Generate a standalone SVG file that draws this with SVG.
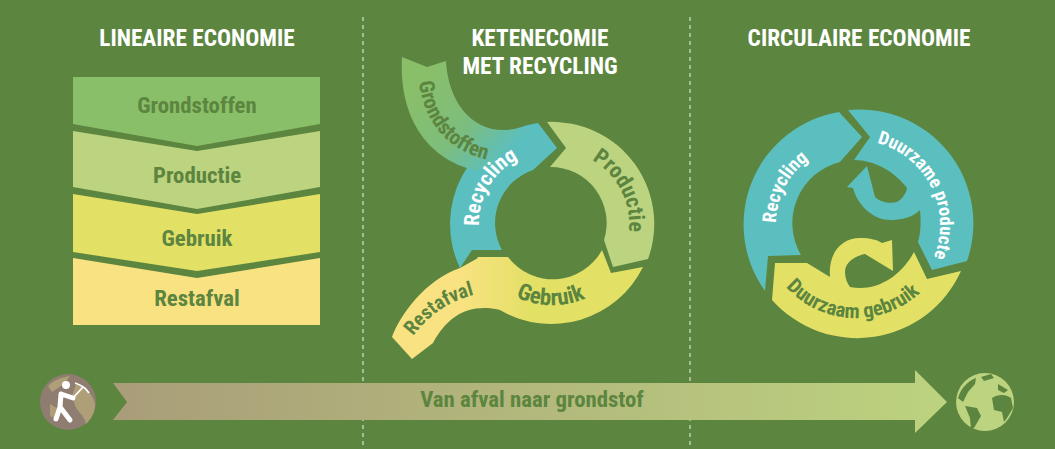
<svg xmlns="http://www.w3.org/2000/svg" width="1055" height="449" viewBox="0 0 1055 449">
<style>
text{font-family:"Roboto","Liberation Sans",sans-serif;font-weight:700;font-stretch:75%}
.h{fill:#fff;font-size:23.3px;text-anchor:middle}
.d{fill:#5c853f;font-size:22.8px}
.m{text-anchor:middle}
.w{fill:#fff}
.sep{stroke:#fff;stroke-width:1;stroke-dasharray:4 4;opacity:.9;fill:none}
.teal{fill:#5bbfbf}
</style>
<defs>
<linearGradient id="gG" gradientUnits="userSpaceOnUse" x1="410" y1="90" x2="500" y2="165"><stop offset="0" stop-color="#8abf69"/><stop offset=".55" stop-color="#7dbd7d"/><stop offset="1" stop-color="#5bbfbf"/></linearGradient>
<linearGradient id="gY" gradientUnits="userSpaceOnUse" x1="460" y1="0" x2="530" y2="0"><stop offset="0" stop-color="#f9e282"/><stop offset="1" stop-color="#e3e066"/></linearGradient>
<linearGradient id="gA" gradientUnits="userSpaceOnUse" x1="113" y1="0" x2="947" y2="0"><stop offset="0" stop-color="#a99d79"/><stop offset="1" stop-color="#bcd37f"/></linearGradient>
<path id="p1" d="M479 226A72 72 0 0 1 551 151"/>
<path id="p2" d="M592 160A74 74 0 0 1 620 260"/>
<path id="p3" d="M516 297A83 83 0 0 0 620 270"/>
<path id="p4" d="M413 336C430 314 448 302 473 295L500 290"/>
<path id="p5" d="M419 82C424 120 445 150 488 160L510 163"/>
<path id="p6" d="M776 223A80 80 0 0 1 856 144"/>
<path id="p7" d="M877 143A85 85 0 0 1 920 280"/>
<path id="p8" d="M786 287A94 94 0 0 0 940 266"/>
</defs>
<rect width="1055" height="449" fill="#5c853f"/>
<g id="separators">
<path class="sep" d="M363 17V449"/>
<path class="sep" d="M690 17V449"/>
</g>
<g id="connectors">
<g id="flow-arrow">
<path d="M113 383H915V370L947 402L915 433V420H113L127 402Z" fill="url(#gA)"/>
<text class="d m" x="532" y="407">Van afval naar grondstof</text>
</g>
</g>
<g id="linear">
<text class="h" x="197" y="46">LINEAIRE ECONOMIE</text>
<g id="lin-grondstoffen"><path d="M73 77H320V124L197 146L73 124Z" fill="#8abf69"/><text class="d m" x="197" y="113">Grondstoffen</text></g>
<g id="lin-productie"><path d="M73 131L197 151L320 131V187L197 209L73 187Z" fill="#bcd37f"/><text class="d m" x="197" y="183">Productie</text></g>
<g id="lin-gebruik"><path d="M73 194L197 214L320 194V252L197 271L73 252Z" fill="#e3e066"/><text class="d m" x="197" y="246">Gebruik</text></g>
<g id="lin-restafval"><path d="M73 258L197 278L320 258V325H73Z" fill="#f9e282"/><text class="d m" x="197" y="306">Restafval</text></g>
</g>
<g id="chain">
<text class="h" x="540" y="46">KETENECOMIE</text>
<text class="h" x="540" y="74">MET RECYCLING</text>
<g id="chain-recycling"><path class="teal" d="M460 268A102 102 0 0 1 538 123L557 148L533 170A56 56 0 0 0 502 250H472Z"/></g>
<g id="chain-grondstoffen"><path d="M402 57L427 67L446 61C448 100 470 130 503 130C515 130 525 127 538 123L500 160L480 171C440 165 398 130 402 57Z" fill="url(#gG)"/><text class="d" style="font-size:21px"><textPath href="#p5">Grondstoffen</textPath></text></g>
<g id="chain-recycling-label"><text class="w" style="font-size:21px"><textPath href="#p1">Recycling</textPath></text></g>
<g id="chain-productie"><path d="M547 122A102 102 0 0 1 648 259L613 267L604 240A56 56 0 0 0 550 167L566 148Z" fill="#bcd37f"/><text class="d" style="font-size:22px"><textPath href="#p2">Productie</textPath></text></g>
<g id="chain-gebruik"><path d="M643 267A102 102 0 0 1 500 310C470 303 448 315 433 343L412 359L392 337C400 315 425 280 460 268L478 258L477 257H508A56 56 0 0 0 602 250L611 273Z" fill="url(#gY)"/><text class="d" style="font-size:23px"><textPath href="#p3">Gebruik</textPath></text><text class="d" style="font-size:20px"><textPath href="#p4">Restafval</textPath></text></g>
</g>
<g id="circular">
<text class="h" x="859" y="46">CIRCULAIRE ECONOMIE</text>
<g id="circ-recycling"><path class="teal" d="M765 291A114 114 0 0 1 839 112L862 137L840 162A63 63 0 0 0 801 255L768 256Z"/><text class="w" style="font-size:19px"><textPath href="#p6">Recycling</textPath></text></g>
<g id="circ-producten"><path class="teal" d="M848 110A114 114 0 0 1 967 261L932 270L918 242C921 232 921 220 920 210C912 218 900 220 890 220C875 220 858 207 853 188L847 187L867 166L875 197C880 202 890 204 897 202C902 199 906 194 907 188C895 172 875 160 854 160L870 137Z"/><text class="w" style="font-size:18.5px"><textPath href="#p7">Duurzame producte</textPath></text></g>
<g id="circ-gebruik"><path d="M772 300L775 263H807L830 277C828 255 840 238 860 238C870 238 878 240 882 243L892 240L893 271L865 254C855 256 845 262 845 272C845 278 847 283 850 287C875 292 900 278 914 252L927 279L961 271A114 114 0 0 1 772 300Z" fill="#e3e066"/><text class="d" style="font-size:20.5px"><textPath href="#p8">Duurzaam gebruik</textPath></text></g>
</g>
<g id="icon-mine">
<circle cx="68" cy="402" r="28" fill="#8f7d72"/>
<path d="M76 384C85 386 93 394 95 404C95 414 90 420 86 424C84 414 76 412 74 402L72 396ZM48 386C54 380 62 377 70 376L64 384L52 392ZM50 404L60 410L58 420L50 416Z" fill="#ae9f78"/>
<circle cx="66" cy="385" r="4" fill="#fff"/>
<path d="M61 394L60 407M61 394L73 398M60 407L56 419M60 407L70 420" stroke="#fff" stroke-width="5" stroke-linecap="round" fill="none"/>
<path d="M73 398L83 387M75 383C81 385 86 388 89 393" stroke="#fff" stroke-width="1.8" fill="none"/>
</g>
<g id="icon-globe">
<circle cx="985" cy="402" r="29" fill="#bcd37f"/>
<path d="M958 398C961 388 968 381 976 378L975 384L968 392L963 402ZM981 377L991 374L994 378L984 381ZM965 406L977 408L981 416L974 428L971 429L970 418ZM992 398C998 394 1006 394 1011 398L1013 408L1007 418L1004 422L1002 412L994 410ZM998 384L1008 390L1004 393L998 390Z" fill="#5c853f"/>
</g>
</svg>
